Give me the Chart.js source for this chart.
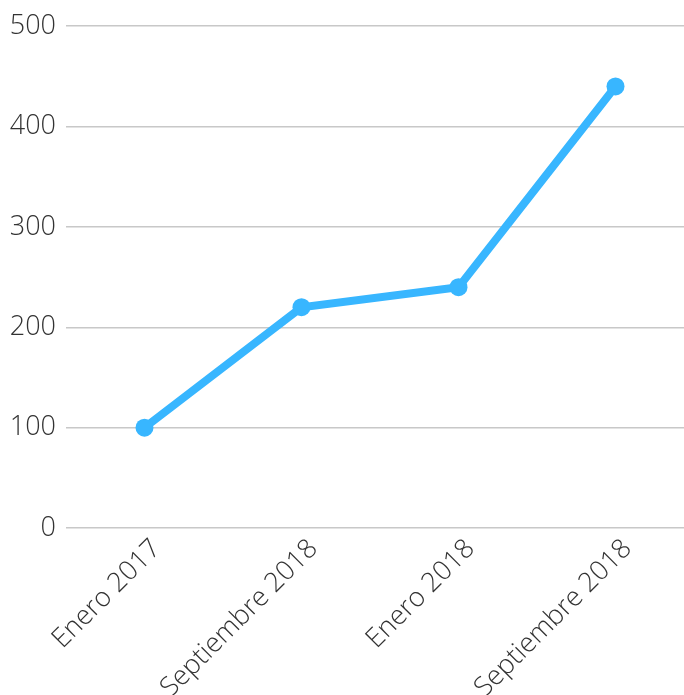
<!DOCTYPE html>
<html>
<head>
<meta charset="utf-8">
<script src="https://cdn.jsdelivr.net/npm/chart.js@4"></script>
<style>
html,body{margin:0;padding:0;background:#fff;overflow:hidden;}
#wrap{width:703px;height:695px;position:relative;}
</style>
</head>
<body>
<div id="wrap"><canvas id="c" width="703" height="695"></canvas></div>
<script>
const categories = ["Enero 2017", "Septiembre 2018", "Enero 2018", "Septiembre 2018"];
const values = [100, 220, 240, 440];
const yTicks = [0, 100, 200, 300, 400, 500];

const font = { family: "'Open Sans', sans-serif", size: 27, weight: 300 };

new Chart(document.getElementById('c'), {
  type: 'line',
  data: {
    labels: categories,
    datasets: [{
      data: values,
      borderColor: '#38b6ff',
      backgroundColor: '#38b6ff',
      borderWidth: 8,
      pointRadius: 9,
      pointHoverRadius: 9,
      pointBackgroundColor: '#38b6ff',
      pointBorderWidth: 0,
      tension: 0,
      fill: false
    }]
  },
  options: {
    responsive: false,
    animation: false,
    devicePixelRatio: 1,
    layout: { padding: { top: 8, right: 0, left: 0, bottom: 0 } },
    plugins: { legend: { display: false }, tooltip: { enabled: false } },
    scales: {
      x: {
        offset: true,
        grid: { display: false, drawTicks: false },
        border: { display: false },
        afterFit: (s) => { s.height = 167; s.paddingRight = 0; },
        ticks: { font: font, color: '#333', maxRotation: 45, minRotation: 45, padding: 5, labelOffset: 12 }
      },
      y: {
        min: 0, max: 500,
        afterBuildTicks: (s) => { s.ticks = yTicks.map(v => ({ value: v })); },
        afterFit: (s) => { s.width = 66; },
        grid: { color: '#c8c8c8', lineWidth: 1.5, drawTicks: false },
        border: { display: false },
        ticks: { font: font, color: '#333', padding: 10 }
      }
    }
  }
});
</script>
</body>
</html>
